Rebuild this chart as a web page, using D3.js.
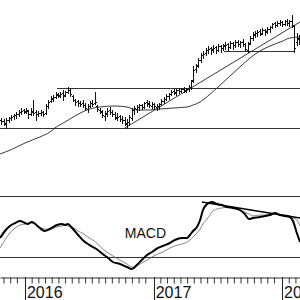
<!DOCTYPE html>
<html><head><meta charset="utf-8">
<script src="https://cdn.jsdelivr.net/npm/d3@7/dist/d3.min.js"></script>
<style>html,body{margin:0;padding:0;background:#fff;}svg{display:block;}</style>
</head><body>
<svg id="c" width="300" height="300"></svg>
<script>
// ---------- DATA ----------
const firstWeek = "2015-10-26";   // weekly bars (Mondays)
const barHigh = [82,81,82,83,85,86,88,90,92,91,
 92,90,92,100,90,89,90,89,96,100,
 104,105,108,107,108,110,109,113,112,105,
 101,100,99,100,97,96,99,100,108,95,
 92,90,89,92,93,90,88,87,85,84,
 83,81,85,92,94,95,96,96,98,100,
 99,98,97,96,97,101,103,106,107,110,
 111,111,112,112,113,112,115,120,134,136,
 142,147,149,152,154,153,155,154,156,155,
 156,158,157,159,158,160,160,159,161,157,
 158,164,168,169,170,171,172,171,173,174,
 177,178,179,180,179,180,181,180,185,175,
 167,165];
const barLow = [76,75,72,78,80,81,82,84,86,87,
 87,82,85,85,80,84,85,84,86,92,
 98,99,102,103,103,100,104,107,104,99,
 95,94,94,93,90,88,93,94,96,89,
 87,83,80,84,86,84,81,80,79,77,
 75,72,75,80,86,88,90,91,92,94,
 93,92,91,90,91,95,97,100,101,105,
 106,105,107,108,108,108,109,111,118,128,
 133,138,142,145,147,146,148,147,149,148,
 150,151,150,152,151,153,154,153,154,149,
 148,156,160,163,164,165,166,165,167,168,
 172,173,174,175,174,175,175,174,173,148,
 155,156];
const barOpen = [80,79,76,80,82,84,85,86,88,90,
 88,89,86,89,88,86,87,88,87,94,
 99,101,103,106,104,107,105,108,110,104,
 100,99,97,97,95,91,94,97,97,94,
 90,88,84,86,90,88,86,82,84,81,
 80,76,78,82,90,91,93,95,93,98,
 97,94,96,93,94,96,99,101,104,106,
 109,107,110,109,111,109,111,113,120,131,
 135,140,145,147,150,152,150,153,150,154,
 152,154,156,153,157,155,158,156,158,156,
 150,157,162,165,167,169,167,170,169,171,
 173,177,175,177,178,176,179,177,179,174,
 158,161];
const barClose = [79,77,80,82,83,85,86,88,89,89,
 90,86,88,87,86,87,88,86,94,98,
 102,103,105,105,106,104,108,110,106,100,
 98,97,96,95,92,94,97,96,98,91,
 89,85,87,89,88,86,83,83,81,80,
 77,78,83,90,92,93,95,93,97,96,
 95,96,94,94,96,99,101,104,106,108,
 108,110,109,111,110,111,113,119,130,134,
 140,145,146,150,151,151,152,150,154,152,
 155,155,153,157,155,158,156,158,156,151,
 156,162,166,167,168,166,170,168,171,173,
 176,175,177,178,176,179,177,179,175,152,
 162,160];

const maDates = ["2015-10-22","2015-11-27","2016-01-01","2016-02-12","2016-03-12","2016-03-26","2016-04-24","2016-05-22","2016-06-25","2016-08-01","2016-09-13","2016-10-17","2016-11-14","2016-12-21","2017-01-19","2017-02-25","2017-04-06","2017-04-23","2017-05-13","2017-06-04","2017-06-30","2017-08-06","2017-09-03","2017-10-02","2017-10-30","2017-11-28","2018-01-03","2018-01-23","2018-02-21"];
const maValues = [46,51,57,63,68,72,78,84,90,93,94,93,90,90,91,92,93,95,98,104,112,124,133,142,149,154,159,162,163];

const levelValues = [72, 112, 148.5];
const levelStarts = ["2015-10-22","2016-04-01","2017-07-20"];
const levelEnds   = ["2018-02-21","2018-02-21","2018-02-05"];
const trendDates = ["2016-10-11","2018-02-21"];
const trendValues = [72, 178];

const macdDates = ["2015-10-22","2015-11-05","2015-11-19","2015-12-04","2015-12-18","2016-01-01","2016-01-09","2016-01-20","2016-02-12","2016-02-26","2016-03-12","2016-04-01","2016-04-15","2016-04-24","2016-05-02","2016-05-14","2016-05-31","2016-06-16","2016-06-28","2016-07-12","2016-07-26","2016-08-09","2016-08-21","2016-09-07","2016-09-27","2016-10-17","2016-10-31","2016-11-14","2016-11-28","2016-12-13","2016-12-27","2017-01-13","2017-01-27","2017-02-16","2017-03-02","2017-03-22","2017-04-06","2017-04-14","2017-04-23","2017-05-04","2017-05-13","2017-05-21","2017-06-02","2017-06-16","2017-06-30","2017-07-14","2017-07-28","2017-08-14","2017-09-03","2017-09-17","2017-09-29","2017-10-10","2017-10-30","2017-11-13","2017-11-28","2017-12-12","2017-12-26","2018-01-09","2018-01-23","2018-02-01","2018-02-12","2018-02-21"];
const macdValues = [1.9,2.6,3.1,3.4,3.6,3.4,3.3,3.5,2.9,2.6,
 2.8,3.2,3.3,3.2,3.3,2.9,2.2,1.6,1.3,1.0,
 0.7,0.3,0.0,-0.5,-0.7,-1.0,-1.2,-0.8,-0.3,0.2,
 0.5,0.9,1.1,1.4,1.7,1.9,1.9,2.2,2.6,3.0,
 3.7,4.7,5.3,5.5,5.3,5.2,5.0,4.9,4.7,4.3,
 3.8,3.9,4.0,4.1,4.2,4.4,4.2,4.1,4.0,3.6,
 2.4,1.5];
const signalValues = [0.9,1.7,2.4,2.9,3.2,3.3,3.4,3.4,3.0,2.8,
 2.8,3.0,3.1,3.2,3.1,3.0,2.6,2.3,2.0,1.7,
 1.3,0.8,0.5,0.1,-0.3,-0.7,-1.0,-0.9,-0.6,-0.3,
 0.0,0.3,0.5,0.9,1.1,1.3,1.5,1.7,2.0,2.4,
 2.8,3.3,3.8,4.5,4.8,4.9,5.0,5.0,4.7,4.5,
 4.3,4.1,4.2,4.2,4.3,4.3,4.2,4.2,4.1,3.9,
 3.7,3.1];
const macdTrendDates = ["2017-05-18","2018-02-21"];
const macdTrendValues = [5.5, 3.9];
const macdLabel = "MACD";
const yearLabels = ["2016","2017","2018"];

// ---------- SCALES ----------
const P = d3.timeParse("%Y-%m-%d");
const svg = d3.select("#c");
const W = 300;
const x = d3.scaleTime().domain([P("2015-10-22"), P("2018-02-21")]).range([0, W]);
const yP = d3.scaleLinear().domain([0, 200]).range([200, 0]);
const yM = d3.scaleLinear().domain([-2, 6]).range([277, 197]);
const crisp = v => Math.round(v) + 0.5;

const weeks = d3.timeMonday.every(1).range(P(firstWeek), d3.timeDay.offset(P(firstWeek), 7 * barHigh.length));
const bars = weeks.map((d, i) => ({d, h: barHigh[i], l: barLow[i], o: barOpen[i], c: barClose[i]}));

// ---------- PRICE PANEL ----------
const gP = svg.append("g");
// horizontal levels
gP.selectAll("line.lvl").data(levelValues).join("line")
  .attr("x1", (v, i) => x(P(levelStarts[i]))).attr("x2", (v, i) => x(P(levelEnds[i])))
  .attr("y1", v => crisp(yP(v))).attr("y2", v => crisp(yP(v)))
  .attr("stroke", "#333").attr("stroke-width", 1).attr("shape-rendering", "crispEdges");
// trend line
gP.append("line")
  .attr("x1", x(P(trendDates[0]))).attr("y1", yP(trendValues[0]))
  .attr("x2", x(P(trendDates[1]))).attr("y2", yP(trendValues[1]))
  .attr("stroke", "#222").attr("stroke-width", 0.9);
// moving average
gP.append("path").datum(maDates.map((d, i) => [P(d), maValues[i]]))
  .attr("d", d3.line().x(d => x(d[0])).y(d => yP(d[1])).curve(d3.curveMonotoneX))
  .attr("fill", "none").attr("stroke", "#222").attr("stroke-width", 0.9);
// OHLC bars
const gb = gP.selectAll("g.bar").data(bars).join("g").attr("stroke", "#111").attr("stroke-width", 1).attr("shape-rendering", "crispEdges");
gb.append("line").attr("x1", b => crisp(x(b.d))).attr("x2", b => crisp(x(b.d)))
  .attr("y1", b => Math.round(yP(b.h))).attr("y2", b => Math.round(yP(b.l)) + 1);
gb.append("line").attr("x1", b => crisp(x(b.d)) - 1.5).attr("x2", b => crisp(x(b.d)))
  .attr("y1", b => crisp(yP(b.o))).attr("y2", b => crisp(yP(b.o)));
gb.append("line").attr("x1", b => crisp(x(b.d))).attr("x2", b => crisp(x(b.d)) + 1.5)
  .attr("y1", b => crisp(yP(b.c))).attr("y2", b => crisp(yP(b.c)));

// ---------- MACD PANEL ----------
const gM = svg.append("g");
gM.append("line").attr("x1", 0).attr("x2", W).attr("y1", 196.5).attr("y2", 196.5)
  .attr("stroke", "#333").attr("shape-rendering", "crispEdges");
gM.append("line").attr("x1", 0).attr("x2", W).attr("y1", crisp(yM(0))).attr("y2", crisp(yM(0)))
  .attr("stroke", "#333").attr("shape-rendering", "crispEdges");
const mline = d3.line().x(d => x(d[0])).y(d => yM(d[1])).curve(d3.curveMonotoneX);
gM.append("path").datum(macdDates.map((d, i) => [P(d), signalValues[i]]))
  .attr("d", mline).attr("fill", "none").attr("stroke", "#666").attr("stroke-width", 0.8);
gM.append("path").datum(macdDates.map((d, i) => [P(d), macdValues[i]]))
  .attr("d", mline).attr("fill", "none").attr("stroke", "#000").attr("stroke-width", 2).attr("stroke-linejoin", "round");
gM.append("line")
  .attr("x1", x(P(macdTrendDates[0]))).attr("y1", yM(macdTrendValues[0]))
  .attr("x2", x(P(macdTrendDates[1]))).attr("y2", yM(macdTrendValues[1]))
  .attr("stroke", "#000").attr("stroke-width", 1.6);
gM.append("text").attr("x", x(P("2016-10-11"))).attr("y", yM(1.9))
  .attr("font-family", "'Liberation Sans', Arial, sans-serif").attr("font-size", 14)
  .attr("fill", "#111").text(macdLabel);

// ---------- TIME AXIS ----------
const tickDates = [];
[2015, 2016, 2017, 2018].forEach(yr => {
  for (let k = 1; k < 19; k++) tickDates.push(d3.timeDay.offset(new Date(yr, 0, 1), k * 19));
});
const axis = d3.axisBottom(x).tickValues(tickDates.filter(d => d >= x.domain()[0] && d <= x.domain()[1]))
  .tickSize(6).tickSizeOuter(0).tickFormat("");
const gA = svg.append("g").attr("transform", "translate(0,277.5)").call(axis);
gA.select(".domain").attr("stroke", "#333");
gA.selectAll(".tick line").attr("stroke", "#333");
const years = yearLabels.map(s => new Date(+s, 0, 1));
svg.selectAll("line.yr").data(years).join("line")
  .attr("x1", d => crisp(x(d))).attr("x2", d => crisp(x(d))).attr("y1", 277).attr("y2", 300)
  .attr("stroke", "#222").attr("shape-rendering", "crispEdges");
svg.selectAll("text.yr").data(years).join("text")
  .attr("x", d => x(d) + 2).attr("y", 298)
  .attr("font-family", "'Liberation Sans', Arial, sans-serif").attr("font-size", 16)
  .attr("fill", "#111").text((d, i) => yearLabels[i]);
</script>
</body></html>
